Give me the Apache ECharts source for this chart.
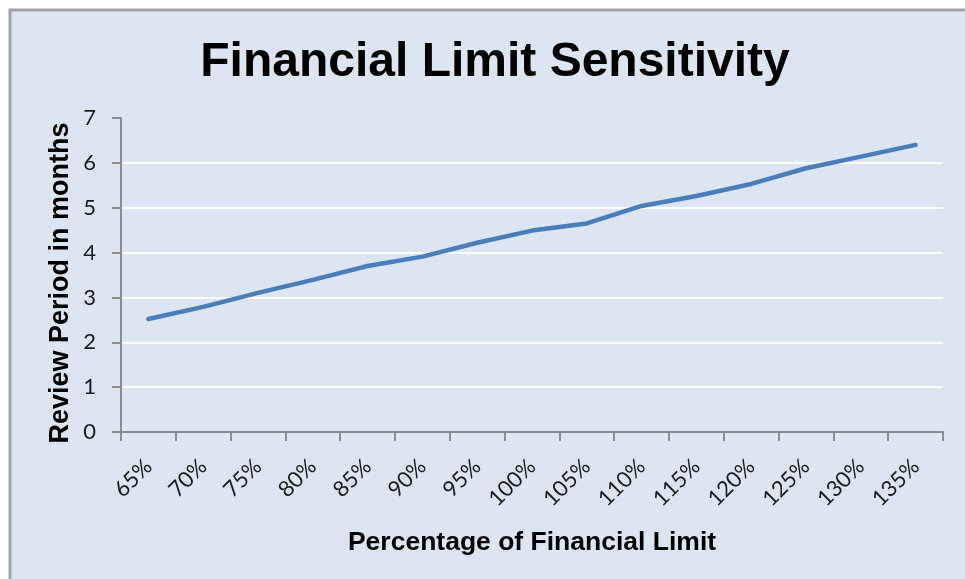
<!DOCTYPE html>
<html>
<head>
<meta charset="utf-8">
<style>
  html, body { margin: 0; padding: 0; background: #ffffff; }
  #chart { width: 965px; height: 579px; }
</style>
<script src="https://cdn.jsdelivr.net/npm/echarts@6/dist/echarts.min.js"></script>
</head>
<body>
<div id="chart"></div>
<script>
// Percentage of the financial limit (x categories)
const categories = ['65%', '70%', '75%', '80%', '85%', '90%', '95%', '100%',
                    '105%', '110%', '115%', '120%', '125%', '130%', '135%'];
// Review period in months for each limit
const reviewMonths = [2.52, 2.79, 3.10, 3.39, 3.70, 3.91, 4.22, 4.49,
                      4.65, 5.04, 5.26, 5.53, 5.88, 6.14, 6.40];
// Value axis ticks
const yTicks = [0, 1, 2, 3, 4, 5, 6, 7];

const chart = echarts.init(document.getElementById('chart'), null, { renderer: 'canvas' });

chart.setOption({
  backgroundColor: '#ffffff',
  animation: false,
  graphic: [{
    type: 'rect',
    z: -10,
    silent: true,
    shape: { x: 10, y: 10, width: 1000, height: 1000 },
    style: { fill: '#dce6f2', stroke: '#a3a3a3', lineWidth: 3 }
  }, {
    // vertical axis title
    type: 'text',
    x: 61,
    y: 283,
    rotation: Math.PI / 2,
    silent: true,
    style: {
      text: 'Review Period in months',
      fontFamily: 'Liberation Sans, Arial, sans-serif',
      fontWeight: 'bold',
      fontSize: 27,
      fill: '#000000',
      align: 'center',
      verticalAlign: 'middle'
    }
  }],
  title: {
    text: 'Financial Limit Sensitivity',
    left: 490,
    textAlign: 'center',
    top: 34,
    textStyle: {
      fontFamily: 'Liberation Sans, Arial, sans-serif',
      fontWeight: 'bold',
      fontSize: 48,
      color: '#000000'
    }
  },
  grid: { left: 121, right: 22, top: 118, bottom: 147, containLabel: false },
  xAxis: {
    type: 'category',
    data: categories,
    boundaryGap: true,
    name: 'Percentage of Financial Limit',
    nameLocation: 'middle',
    nameGap: 97,
    nameTextStyle: {
      fontFamily: 'Liberation Sans, Arial, sans-serif',
      fontWeight: 'bold',
      fontSize: 26.5,
      color: '#000000'
    },
    axisLine: { show: true, lineStyle: { color: '#8c8c8c', width: 2 } },
    axisTick: { show: true, alignWithLabel: false, length: 9, lineStyle: { color: '#8c8c8c', width: 2 } },
    axisLabel: {
      rotate: 45,
      margin: 31,
      fontFamily: 'Lato, sans-serif',
      fontSize: 22,
      color: '#1a1a1a',
      interval: 0
    },
    splitLine: { show: false }
  },
  yAxis: {
    type: 'value',
    min: yTicks[0],
    max: yTicks[yTicks.length - 1],
    interval: 1,
    axisLine: { show: true, lineStyle: { color: '#8c8c8c', width: 2 } },
    axisTick: { show: true, inside: false, length: 9, lineStyle: { color: '#8c8c8c', width: 2 } },
    axisLabel: {
      margin: 25,
      fontFamily: 'Lato, sans-serif',
      fontSize: 22,
      color: '#1a1a1a'
    },
    splitLine: {
      show: true,
      showMinLine: false,
      showMaxLine: false,
      lineStyle: { color: '#ffffff', width: 2 }
    }
  },
  series: [{
    type: 'line',
    data: reviewMonths,
    symbol: 'none',
    smooth: false,
    lineStyle: { color: '#4a7ebb', width: 4.5, cap: 'round', join: 'round' }
  }]
});
</script>
</body>
</html>
